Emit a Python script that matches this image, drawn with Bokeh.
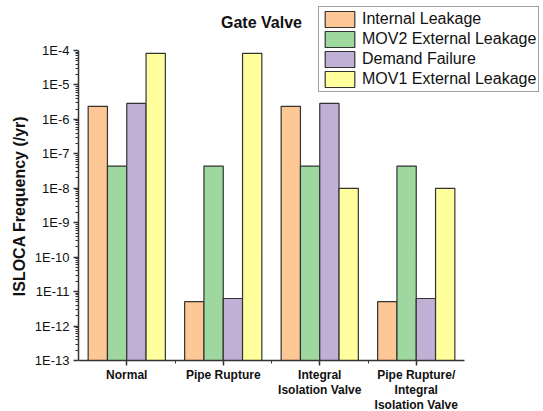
from bokeh.plotting import figure
from bokeh.models import (ColumnDataSource, FixedTicker, CustomJSTickFormatter,
                          Legend, LegendItem, Label)
from bokeh.transform import dodge
from bokeh.embed import file_html
from bokeh.resources import INLINE

# ---- data ----
categories = ["Normal", "Pipe Rupture", "Integral\nIsolation Valve",
              "Pipe Rupture/\nIntegral\nIsolation Valve"]
series_names = ["Internal Leakage", "MOV2 External Leakage",
                "Demand Failure", "MOV1 External Leakage"]
internal_leakage = [2.4e-6, 5.1e-12, 2.4e-6, 5.1e-12]
mov2_external = [4.4e-8, 4.4e-8, 4.4e-8, 4.4e-8]
demand_failure = [2.9e-6, 6.3e-12, 2.9e-6, 6.3e-12]
mov1_external = [8.3e-5, 8.3e-5, 1.0e-8, 1.0e-8]
y_exponents = list(range(-13, -3))  # 1E-13 .. 1E-4

colors = ["#FDC895", "#9FD89F", "#C1B0D6", "#FFFF9E"]
FONT = "Liberation Sans"

# ---- layout (pixels inside the canvas) ----
W, H = 543, 411
LEFT = 78            # frame left
AX_TOP, AX_BOT = 50, 360   # pixel rows of 1E-4 and 1E-13
AX_RIGHT = 464       # pixel column of right end of x axis

n = len(categories)
ymin, ymax = 10.0 ** y_exponents[0], 10.0 ** y_exponents[-1]
ppd = (AX_BOT - AX_TOP) / (y_exponents[-1] - y_exponents[0])   # px per decade
y_start = 10.0 ** (y_exponents[0] - (H - AX_BOT) / ppd)
y_end = 10.0 ** (y_exponents[-1] + AX_TOP / ppd)
ppc = (AX_RIGHT - LEFT) / n   # px per category
x_end = n + (W - AX_RIGHT) / ppc

x_centers = [i + 0.5 for i in range(n)]
src = ColumnDataSource(dict(
    x=x_centers,
    internal=internal_leakage,
    mov2=mov2_external,
    demand=demand_failure,
    mov1=mov1_external,
))

p = figure(width=W, height=H, x_range=(0, x_end),
           y_range=(y_start, y_end), y_axis_type="log",
           output_backend="svg", toolbar_location=None,
           min_border=0, min_border_left=LEFT)
p.outline_line_color = None
p.xgrid.grid_line_color = None
p.ygrid.grid_line_color = None
p.background_fill_color = "white"

cols = ["internal", "mov2", "demand", "mov1"]
offsets = [-0.3, -0.1, 0.1, 0.3]
items = []
for col, off, c, name in zip(cols, offsets, colors, series_names):
    r = p.vbar(x=dodge("x", off, range=p.x_range), top=col, bottom=ymin,
               width=0.2, source=src, fill_color=c, line_color="#333333",
               line_width=1.2)
    items.append(LegendItem(label=name, renderers=[r]))

# x axis
xa = p.xaxis[0]
xa.fixed_location = ymin
xa.bounds = (0, n)
xa.ticker = FixedTicker(ticks=x_centers, minor_ticks=[1, 2, 3])
xa.major_label_overrides = {xc: lab for xc, lab in zip(x_centers, categories)}
xa.major_label_text_font = FONT
xa.major_label_text_font_style = "bold"
xa.major_label_text_font_size = "12px"
xa.major_label_text_line_height = 1.1
xa.major_label_text_color = "#111111"
xa.major_label_standoff = 2
xa.axis_line_color = "#333333"
xa.axis_line_width = 1.5
xa.major_tick_line_color = "#333333"
xa.major_tick_line_width = 1.5
xa.major_tick_out = 5
xa.major_tick_in = 0
xa.minor_tick_line_color = "#333333"
xa.minor_tick_out = 3
xa.minor_tick_in = 0

# y axis
ya = p.yaxis[0]
ya.bounds = (ymin, ymax)
minor = []
for e in y_exponents[:-1]:
    for k in range(2, 10):
        minor.append(k * 10.0 ** e)
ya.ticker = FixedTicker(ticks=[10.0 ** e for e in y_exponents], minor_ticks=minor)
ya.formatter = CustomJSTickFormatter(code='return "1E" + Math.round(Math.log10(tick));')
ya.major_label_text_font = FONT
ya.major_label_text_font_size = "13px"
ya.major_label_text_color = "#111111"
ya.major_label_standoff = 4
ya.axis_line_color = "#333333"
ya.axis_line_width = 1.5
ya.major_tick_line_color = "#333333"
ya.major_tick_line_width = 1.5
ya.major_tick_out = 5
ya.major_tick_in = 0
ya.minor_tick_line_color = "#333333"
ya.minor_tick_out = 3
ya.minor_tick_in = 0
ya.axis_label = "ISLOCA Frequency (/yr)"
ya.axis_label_text_font = FONT
ya.axis_label_text_font_style = "bold"
ya.axis_label_text_font_size = "16px"
ya.axis_label_text_color = "#111111"
ya.axis_label_standoff = 4

# legend: top-left corner at canvas (318, 11) -> frame-relative
leg_h = 81
legend = Legend(items=items, location=(318 - LEFT, H - 11 - leg_h))
legend.label_text_font = FONT
legend.label_text_font_size = "16px"
legend.label_text_color = "#111111"
legend.glyph_width = 37
legend.glyph_height = 20
legend.label_height = 20
legend.spacing = 0
legend.padding = 2
legend.margin = 0
legend.label_standoff = 4
legend.border_line_color = "#444444"
legend.border_line_width = 1
legend.background_fill_alpha = 1
p.add_layout(legend, "center")

title = Label(x=(261 - LEFT) / ppc, y=10.0 ** (y_exponents[-1] + (AX_TOP - 22) / ppd),
              text="Gate Valve", text_font=FONT,
              text_font_style="bold", text_font_size="16px",
              text_align="center", text_baseline="middle", text_color="#111111")
p.add_layout(title)

open("out.html", "w").write(file_html(p, INLINE))
